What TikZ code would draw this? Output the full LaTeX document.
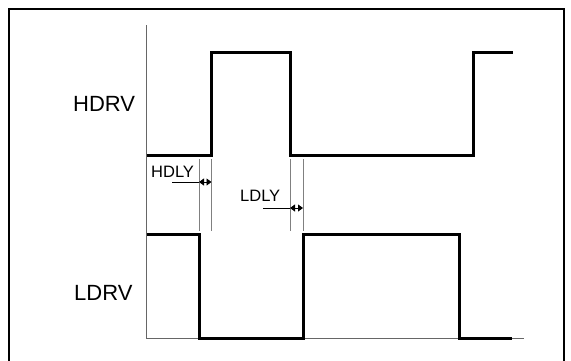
\documentclass[tikz,border=0pt]{standalone}
\usepackage{fontspec}
\setmainfont{Liberation Sans}
\usetikzlibrary{arrows.meta}
\begin{document}
\begin{tikzpicture}[x=1pt,y=-1pt,
  wave/.style={line width=3pt,line join=miter,black},
  axisline/.style={line width=1pt,black!60},
  guide/.style={line width=1pt,black!50},
  lbl/.style={font=\fontsize{22}{24}\selectfont,inner sep=0pt,anchor=base west},
  dlbl/.style={font=\fontsize{16.5}{18}\selectfont,inner sep=0pt,anchor=base west},
  dim/.style={line width=0.9pt,black,{Triangle[length=5pt,width=7pt]}-{Triangle[length=5pt,width=7pt]}},
  lead/.style={line width=0.9pt,black}]
\useasboundingbox (0,0) rectangle (571,360);
\fill[white] (0,0) rectangle (571,360);
% frame
\draw[line width=2pt,black] (9,370) -- (9,9) -- (564,9) -- (564,370);
% axes
\draw[axisline] (146.5,25) -- (146.5,338) -- (524,338);
% guides
\draw[guide] (199,159) -- (199,231);
\draw[guide] (211.5,159) -- (211.5,231);
\draw[guide] (290,159) -- (290,231);
\draw[guide] (303,159) -- (303,231);
% HDRV waveform
\draw[wave] (146.5,155) -- (211.5,155) -- (211.5,52) -- (290,52) -- (290,155) -- (473,155) -- (473,52) -- (513,52);
% LDRV waveform
\draw[wave] (146.5,234) -- (199,234) -- (199,338) -- (303,338) -- (303,234) -- (459,234) -- (459,338) -- (512,338);
% labels
\node[lbl] (hdrv) at (73,111) {HDRV};
\node[lbl] (ldrv) at (74,300) {LDRV};
\node[dlbl] (hdly) at (151,177) {HDLY};
\node[dlbl] (ldly) at (240,201) {LDLY};
% dimension marks
\coordinate (h1) at (199,182);
\coordinate (h2) at (211.5,182);
\coordinate (l1) at (290,208);
\coordinate (l2) at (303,208);
\coordinate (hs) at (172,182);
\coordinate (ls) at (263,208);
\draw[lead] (hs) -- (h1);
\draw[lead] (ls) -- (l1);
\draw[dim] (h1) -- (h2);
\draw[dim] (l1) -- (l2);
\end{tikzpicture}
\end{document}
